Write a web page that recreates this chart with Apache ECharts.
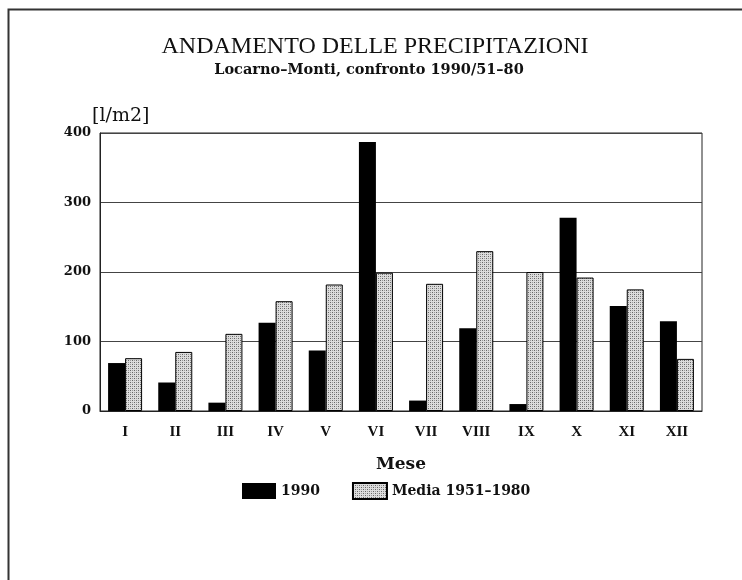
<!DOCTYPE html>
<html>
<head>
<meta charset="utf-8">
<script src="https://cdn.jsdelivr.net/npm/echarts@6/dist/echarts.min.js"></script>
<style>
  html, body { margin: 0; padding: 0; background: #fff; }
  #chart { width: 742px; height: 580px; }
</style>
</head>
<body>
<div id="chart"></div>
<script>
// months (roman numerals) and precipitation in l/m2
const months = ["I", "II", "III", "IV", "V", "VI", "VII", "VIII", "IX", "X", "XI", "XII"];
const rain1990 = [69, 41, 12, 127, 87, 387, 15, 119, 10, 278, 151, 129];
const media5180 = [76, 85, 111, 158, 182, 199, 183, 230, 200, 192, 175, 75];
const yTicks = [0, 100, 200, 300, 400];

const serif = "'Liberation Serif', 'DejaVu Serif', serif";
const wide = "'DejaVu Serif', 'Liberation Serif', serif";

// stipple fill for the long-term mean bars
function stipple() {
    const c = document.createElement("canvas");
    c.width = 4;
    c.height = 4;
    const ctx = c.getContext("2d");
    ctx.fillStyle = "#dcdcdc";
    ctx.fillRect(0, 0, 4, 4);
    ctx.fillStyle = "#666";
    ctx.fillRect(0, 0, 1, 1);
    ctx.fillRect(2, 2, 1, 1);
    ctx.fillStyle = "#999";
    ctx.fillRect(2, 0, 1, 1);
    ctx.fillRect(0, 2, 1, 1);
    return c;
}

const chart = echarts.init(document.getElementById("chart"));

chart.setOption({
    backgroundColor: "#fff",
    animation: false,
    title: [
        {
            text: "ANDAMENTO DELLE PRECIPITAZIONI",
            left: 370,
            textAlign: "center",
            top: 30,
            textStyle: { fontFamily: serif, fontSize: 24, fontWeight: "normal", color: "#111" }
        },
        {
            text: "Locarno\u2013Monti, confronto 1990/51\u201380",
            left: 364,
            textAlign: "center",
            top: 58,
            textStyle: { fontFamily: wide, fontSize: 14.5, fontWeight: "bold", color: "#111" }
        }
    ],
    legend: {
        left: 237,
        top: 477,
        icon: "rect",
        itemWidth: 34,
        itemHeight: 16,
        itemGap: 32,
        textStyle: { fontFamily: wide, fontSize: 14, fontWeight: "bold", color: "#111" },
        data: ["1990", "Media 1951\u20131980"]
    },
    grid: {
        left: 100,
        right: 40,
        top: 133,
        bottom: 169,
        show: true,
        borderColor: "#222",
        borderWidth: 1
    },
    xAxis: {
        type: "category",
        data: months,
        name: "Mese",
        nameLocation: "middle",
        nameGap: 45,
        nameTextStyle: { fontFamily: wide, fontSize: 17, fontWeight: "bold", color: "#111" },
        axisLine: { lineStyle: { color: "#222" } },
        axisTick: { alignWithLabel: true, length: 6, lineStyle: { color: "#222" } },
        axisLabel: { fontFamily: serif, fontSize: 15, fontWeight: "bold", color: "#111", margin: 14 }
    },
    yAxis: {
        type: "value",
        min: yTicks[0],
        max: yTicks[yTicks.length - 1],
        interval: 100,
        name: "[l/m2]",
        nameGap: 7,
        nameTextStyle: { fontFamily: wide, fontSize: 19, color: "#111", align: "left", padding: [0, 0, 0, -8] },
        axisLine: { show: true, lineStyle: { color: "#222" } },
        axisTick: { show: false },
        splitLine: { lineStyle: { color: "#444", width: 1 } },
        axisLabel: { fontFamily: wide, fontSize: 13, fontWeight: "bold", color: "#111", margin: 9 }
    },
    series: [
        {
            name: "1990",
            type: "bar",
            data: rain1990,
            barWidth: 17,
            barGap: "0%",
            itemStyle: { color: "#000" }
        },
        {
            name: "Media 1951\u20131980",
            type: "bar",
            data: media5180,
            barWidth: 17,
            itemStyle: {
                color: { image: stipple(), repeat: "repeat" },
                borderColor: "#000",
                borderWidth: 1
            }
        }
    ],
    graphic: [
        {
            type: "rect",
            left: 6,
            top: 7,
            shape: { width: 760, height: 600 },
            style: { fill: null, stroke: "#333", lineWidth: 2 },
            silent: true
        }
    ]
});
</script>
</body>
</html>
